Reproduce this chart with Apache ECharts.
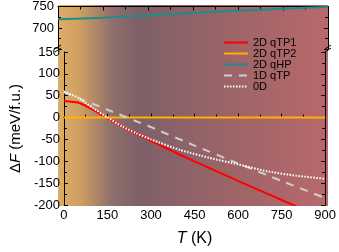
<!DOCTYPE html>
<html><head><meta charset="utf-8">
<script src="https://cdn.jsdelivr.net/npm/echarts@6/dist/echarts.min.js"></script>
<style>
html,body{margin:0;padding:0;background:#fff}
#wrap{position:relative;width:339px;height:252px}
#bg{position:absolute;left:58px;top:5px;width:270px;height:201px;
 background:linear-gradient(to right,#dcae66 0%,#cf9f62 8%,#8f6f6b 20%,#7d6068 30%,#9a6467 60%,#b9686b 100%)}
#c{position:absolute;left:0;top:0;width:339px;height:252px}
</style>
</head><body><div id="wrap"><div id="bg"></div><div id="c"></div></div>
<script>
// ---- data ----
const T_qTP1 = [0, 50, 100, 150, 200, 300, 400, 500, 600, 700, 800, 900];
const qTP1   = [38, 34, 18, -2, -20, -53, -85, -115, -145, -174, -203, -232];
const T_qTP2 = [0, 900];
const qTP2   = [0, 0];
const T_qHP  = [0, 150, 300, 450, 600, 750, 900];
const qHP    = [720, 724, 729, 735, 740, 745, 749];
const T_1D   = [0, 150, 300, 450, 600, 750, 900];
const qTP1D  = [58, 18, -22, -64, -105, -145, -184];
const T_0D   = [0, 50, 100, 150, 200, 250, 300, 400, 500, 600, 700, 800, 900];
const zeroD  = [60, 45, 22, 0, -20, -36, -50, -74, -92, -107, -123, -133, -140];
const names  = ['2D qTP1', '2D qTP2', '2D qHP', '1D qTP', '0D'];
const upperLabels = [700, 750];
const lowerLabels = [-200, -150, -100, -50, 0, 50, 100, 150];

const zip = (xs, ys) => xs.map((x, i) => [x, ys[i]]);
const FONT = 'Liberation Sans, Arial, sans-serif';

const chart = echarts.init(document.getElementById('c'), null, {renderer: 'canvas'});
const L = 58, W = 270;
const tick = () => ({show: true, inside: true, length: 4});
const minor = () => ({show: true, splitNumber: 2});
const aline = () => ({show: true, lineStyle: {color: '#000'}});

const option = {
  animation: false,
  backgroundColor: 'transparent',
  grid: [
    {left: L, width: W, top: 5, height: 44.4},
    {left: L, width: W, top: 52, height: 154}
  ],
  xAxis: [
    {gridIndex: 0, type: 'value', position: 'top', min: 0, max: 900, interval: 150,
     axisLine: aline(), axisTick: tick(), minorTick: minor(),
     axisLabel: {show: false}, splitLine: {show: false}},
    {gridIndex: 1, type: 'value', position: 'bottom', min: 0, max: 900, interval: 150,
     axisLine: aline(), axisTick: tick(), minorTick: minor(),
     axisLabel: {color: '#000', fontSize: 13, margin: 4, fontFamily: FONT},
     splitLine: {show: false},
     name: '{i|T} (K)', nameLocation: 'middle', nameGap: 26,
     nameTextStyle: {color: '#000', fontSize: 16, fontFamily: FONT,
       rich: {i: {fontStyle: 'italic', fontSize: 16, fontFamily: FONT, color: '#000'}}}}
  ],
  yAxis: [
    {gridIndex: 0, type: 'value', position: 'left', min: 650, max: 750, interval: 50,
     axisLine: aline(), axisTick: tick(), minorTick: minor(),
     axisLabel: {customValues: upperLabels, color: '#000', fontSize: 13, margin: 4, fontFamily: FONT},
     splitLine: {show: false}},
    {gridIndex: 0, type: 'value', position: 'right', min: 650, max: 750, interval: 50,
     axisLine: aline(), axisTick: tick(), minorTick: minor(),
     axisLabel: {show: false}, splitLine: {show: false}},
    {gridIndex: 1, type: 'value', position: 'left', min: -200, max: 150, interval: 50,
     axisLine: aline(), axisTick: tick(), minorTick: minor(),
     axisLabel: {customValues: lowerLabels, color: '#000', fontSize: 13, margin: 4, fontFamily: FONT},
     splitLine: {show: false},
     name: '{n|Δ}{i|F} (meV/f.u.)', nameLocation: 'middle', nameGap: 38,
     nameTextStyle: {color: '#000', fontSize: 15, fontFamily: FONT,
       rich: {n: {fontSize: 15, fontFamily: FONT, color: '#000'},
              i: {fontStyle: 'italic', fontSize: 15, fontFamily: FONT, color: '#000'}}}},
    {gridIndex: 1, type: 'value', position: 'right', min: -200, max: 150, interval: 50,
     axisLine: aline(), axisTick: tick(), minorTick: minor(),
     axisLabel: {show: false}, splitLine: {show: false}}
  ],
  legend: {
    orient: 'vertical', left: 218, top: 32, itemWidth: 24, itemHeight: 13, itemGap: 0,
    data: names,
    textStyle: {color: '#000', fontSize: 11, fontFamily: FONT},
    itemStyle: {opacity: 0}
  },
  series: [
    {name: names[0], type: 'line', xAxisIndex: 1, yAxisIndex: 2, data: zip(T_qTP1, qTP1),
     smooth: 0.2, showSymbol: false, symbol: 'none', lineStyle: {color: '#ff0000', width: 2}, itemStyle: {color: '#ff0000'}},
    {name: names[1], type: 'line', xAxisIndex: 1, yAxisIndex: 2, data: zip(T_qTP2, qTP2),
     showSymbol: false, symbol: 'none', lineStyle: {color: '#ffb000', width: 2}, itemStyle: {color: '#ffb000'}},
    {name: names[2], type: 'line', xAxisIndex: 0, yAxisIndex: 0, data: zip(T_qHP, qHP),
     smooth: 0.2, showSymbol: false, symbol: 'none', lineStyle: {color: '#1f8c8c', width: 2}, itemStyle: {color: '#1f8c8c'}},
    {name: names[3], type: 'line', xAxisIndex: 1, yAxisIndex: 2, data: zip(T_1D, qTP1D),
     smooth: 0.2, showSymbol: false, symbol: 'none', lineStyle: {color: '#cfcfcf', width: 2, type: [8, 7]}, itemStyle: {color: '#cfcfcf'}},
    {name: names[4], type: 'line', xAxisIndex: 1, yAxisIndex: 2, data: zip(T_0D, zeroD),
     smooth: 0.2, showSymbol: false, symbol: 'none', lineStyle: {color: '#ffffff', width: 2, type: [1.5, 1.5]}, itemStyle: {color: '#ffffff'}}
  ]
};
chart.setOption(option);
// second pass (break marks), which also re-renders the axes
chart.setOption({
  graphic: [
    {type: 'line', shape: {x1: 55, y1: 49, x2: 61, y2: 45}, style: {stroke: '#000', lineWidth: 1}},
    {type: 'line', shape: {x1: 55, y1: 52, x2: 61, y2: 48}, style: {stroke: '#000', lineWidth: 1}},
    {type: 'line', shape: {x1: 325, y1: 49, x2: 331, y2: 45}, style: {stroke: '#000', lineWidth: 1}},
    {type: 'line', shape: {x1: 325, y1: 52, x2: 331, y2: 48}, style: {stroke: '#000', lineWidth: 1}}
  ]
});
</script></body></html>
